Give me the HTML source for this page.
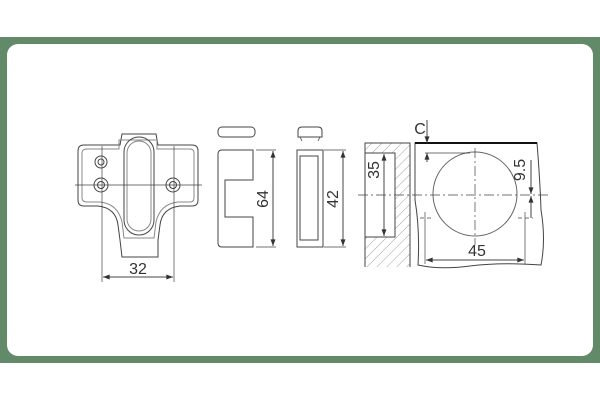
<!DOCTYPE html>
<html><head><style>
html,body{margin:0;padding:0;background:#fff;}
</style></head><body>
<svg width="600" height="400" xmlns="http://www.w3.org/2000/svg" font-family="Liberation Sans, sans-serif">
<defs>
<pattern id="h" width="7" height="7" patternUnits="userSpaceOnUse" patternTransform="rotate(45)">
<rect width="7" height="7" fill="#fff"/><line x1="0" y1="0" x2="0" y2="7" stroke="#999" stroke-width="0.9"/></pattern>
<marker id="a" viewBox="0 0 8 6" refX="8" refY="3" markerWidth="7" markerHeight="5" orient="auto-start-reverse"><path d="M0,0L8,3L0,6z" fill="#333"/></marker>
</defs>
<rect x="0" y="37" width="600" height="326" fill="#628a68"/>
<rect x="7" y="44" width="586" height="312" rx="11" fill="#fff"/>
<g fill="none" stroke="#444" stroke-width="1">
<!-- bracket -->
<path d="M84,145 L120,145 L122,134 L156,134 L158,145 L192,145 Q198,145 198,151 L198,200 Q198,206 192,206 L180,206 Q162,208 160,225 L158,240 L158,257 L122,257 L120,240 L118,225 Q116,208 98,206 L84,206 Q78,206 78,200 L78,151 Q78,145 84,145Z"/>
<path d="M87,149 L119,149 L119,140 L157,140 L157,149 L190,149 Q194,149 194,153 L194,198 Q194,202 190,202 L178,202 Q160,204 156,222 L154,238 L124,238 L122,222 Q118,204 100,202 L87,202 Q82,202 82,198 L82,153 Q82,149 87,149Z" stroke="#888"/>
<rect x="124" y="137" width="30" height="98" rx="15"/>
<rect x="127" y="141" width="24" height="90" rx="12" stroke="#888"/>
<circle cx="101" cy="162" r="6"/><circle cx="101" cy="162" r="3"/>
<circle cx="101" cy="185" r="7"/><circle cx="101" cy="185" r="3.5"/>
<circle cx="173" cy="185" r="7"/><circle cx="173" cy="185" r="3.5"/>
<line x1="75" y1="185" x2="202" y2="185" stroke-width="0.7"/>
<line x1="102" y1="146" x2="102" y2="282" stroke-width="0.7"/>
<line x1="174" y1="146" x2="174" y2="282" stroke-width="0.7"/>
<line x1="103" y1="277" x2="173" y2="277" marker-start="url(#a)" marker-end="url(#a)"/>
<!-- part 2 -->
<rect x="218" y="127" width="37" height="10" rx="4"/>
<path d="M222,150 L253,150 L253,180 L225,180 L225,217 L253,217 L253,247 L222,247 Q218,247 218,243 L218,154 Q218,150 222,150Z"/>
<line x1="256" y1="150" x2="276" y2="150" stroke-width="0.7"/>
<line x1="256" y1="247" x2="276" y2="247" stroke-width="0.7"/>
<line x1="273" y1="151" x2="273" y2="246" marker-start="url(#a)" marker-end="url(#a)"/>
<!-- part 3 -->
<path d="M298,137 L298,131 Q298,127 302,127 L318,127 Q322,127 322,131 L322,137 Z"/>
<path d="M300,137 L302,141 M320,137 L318,141" stroke-width="0.8"/>
<rect x="297" y="150" width="26" height="97"/>
<rect x="300" y="156" width="18" height="84"/>
<line x1="324" y1="150" x2="346" y2="150" stroke-width="0.7"/>
<line x1="324" y1="247" x2="346" y2="247" stroke-width="0.7"/>
<line x1="343" y1="151" x2="343" y2="246" marker-start="url(#a)" marker-end="url(#a)"/>
<!-- wall -->
<rect x="365" y="143" width="45" height="124" fill="url(#h)" stroke="none"/>
<path d="M365,267 L365,143 L410,143 L410,267" />
<rect x="365" y="153" width="30" height="84" fill="#fff"/>
<line x1="384" y1="154" x2="384" y2="236" marker-start="url(#a)" marker-end="url(#a)"/>
<!-- door -->
<path d="M415,143 L537,143 Q540,180 541,210 Q546,240 541,265 Q500,262 470,266 Q440,270 418,265 Q420,230 415,200 Z"/>
<line x1="415" y1="143" x2="537" y2="143" stroke="#111" stroke-width="2"/>
<circle cx="475" cy="194" r="42" stroke="#666"/>
<line x1="358" y1="195" x2="548" y2="195" stroke-width="0.7" stroke-dasharray="10,3,2,3"/>
<line x1="475" y1="148" x2="475" y2="245" stroke-width="0.7" stroke-dasharray="10,3,2,3"/>
<line x1="420" y1="218" x2="433" y2="218" stroke-width="0.7" stroke-dasharray="4,3"/>
<line x1="518" y1="218" x2="533" y2="218" stroke-width="0.7" stroke-dasharray="4,3"/>
<line x1="425" y1="212" x2="425" y2="264" stroke-width="0.7"/>
<line x1="525" y1="212" x2="525" y2="264" stroke-width="0.7"/>
<line x1="426" y1="260" x2="524" y2="260" marker-start="url(#a)" marker-end="url(#a)"/>
<line x1="531" y1="160" x2="531" y2="194" marker-end="url(#a)"/>
<line x1="531" y1="196" x2="531" y2="218" marker-start="url(#a)"/>
<line x1="427" y1="120" x2="427" y2="143" marker-end="url(#a)"/>
<line x1="427" y1="162" x2="427" y2="153" marker-end="url(#a)"/>
<line x1="425" y1="153" x2="470" y2="153" stroke-width="0.7"/>
</g>
<g fill="#333" font-size="16">
<text x="138" y="274" text-anchor="middle">32</text>
<text transform="translate(268,199) rotate(-90)" text-anchor="middle">64</text>
<text transform="translate(338,199) rotate(-90)" text-anchor="middle">42</text>
<text transform="translate(379,170) rotate(-90)" text-anchor="middle">35</text>
<text transform="translate(525,170) rotate(-90)" text-anchor="middle">9.5</text>
<text x="477" y="256" text-anchor="middle">45</text>
<text x="420" y="134" text-anchor="middle">C</text>
</g>
</svg>
</body></html>
